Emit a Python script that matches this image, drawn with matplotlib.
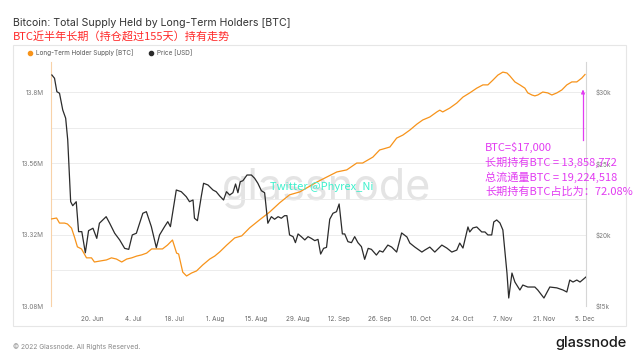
import matplotlib
matplotlib.use("Agg")
import matplotlib.pyplot as plt
from matplotlib.patches import Rectangle
from matplotlib.ticker import FixedLocator, FuncFormatter
import pandas as pd

plt.rcParams["font.family"] = ["Inter", "Noto Sans CJK SC", "DejaVu Sans"]

# --- data (days since 2022-06-06) ---
START = pd.Timestamp("2022-06-06")

price_day = [0.3, 1.2, 2.0, 2.9, 4.0, 5.0, 5.7, 6.7, 7.4, 8.6, 9.4, 10.5, 11.7, 12.8, 14.3,
             15.6, 16.5, 18.8, 20.0, 21.7, 23.4, 25.1, 26.5, 27.7, 29.1, 31.3, 32.5, 34.2,
             35.9, 37.0, 38.7, 39.8, 40.7, 42.7, 44.4, 46.1, 47.2, 48.4, 48.9, 49.9, 51.2,
             52.0, 53.5, 55.2, 56.3, 57.5, 58.8, 59.8, 60.9, 62.0, 62.9, 63.7, 64.5, 65.4,
             66.8, 68.3, 69.4, 70.5, 71.7, 72.8, 73.9, 75.1, 76.2, 77.4, 78.5, 79.6, 80.4,
             81.3, 82.5, 83.3, 84.2, 85.3, 86.5, 87.6, 88.7, 89.9, 91.0, 91.9, 92.9, 93.9,
             95.0, 96.1, 97.3, 98.2, 99.3, 100.1, 101.2, 102.4, 103.5, 104.6, 105.8, 106.9,
             108.1, 109.2, 110.9, 112.0, 113.1, 114.8, 116.1, 117.8, 119.5, 121.3, 122.3,
             124.0, 126.4, 127.4, 129.1, 130.8, 133.2, 134.9, 136.6, 138.3, 139.3, 140.4,
             142.1, 142.7, 143.8, 145.1, 146.8, 147.9, 148.9, 150.2, 150.9, 151.9, 153.0,
             154.0, 155.4, 156.0, 157.1, 158.1, 159.8, 160.8, 162.5, 164.9, 165.9, 168.0,
             170.0, 172.4, 174.5, 175.8, 176.8, 177.9, 179.2, 180.3, 182.3]
price_usd = [31190, 30960, 30020, 29910, 28740, 28160, 26640, 22310, 22030, 22310, 20210,
             20210, 18730, 20280, 20450, 19740, 20800, 21260, 20800, 20100, 19630, 19040,
             18970, 19980, 20100, 21500, 21610, 20560, 19090, 19980, 20560, 20910, 20560,
             23130, 23010, 22660, 22310, 22430, 21150, 20980, 22660, 23600, 23480, 23130,
             23010, 22710, 22430, 23010, 22780, 22940, 23550, 22940, 23710, 23780, 24180,
             24180, 23950, 23600, 23080, 22940, 20800, 21260, 21080, 21260, 21150, 21330,
             21330, 19980, 19860, 19440, 20050, 19860, 19630, 19860, 19740, 19580, 19670,
             18640, 19040, 19110, 21080, 21500, 21610, 22150, 20050, 20050, 19510, 19440,
             19860, 19440, 19160, 18270, 19040, 18970, 18570, 18870, 18780, 19270, 19130,
             18780, 20120, 19840, 19410, 19130, 18780, 18920, 19130, 18780, 19270, 19060,
             18780, 18920, 19410, 19060, 20540, 20190, 20470, 20540, 20190, 20190, 19980,
             19980, 20890, 21030, 20820, 20330, 17310, 15560, 17310, 16680, 16120, 16470,
             16330, 16330, 16120, 15560, 16330, 16270, 16120, 15980, 16820, 16680, 16820,
             16680, 17030]

lth_day = [0.2, 1.9, 2.9, 4.6, 5.6, 7.0, 8.0, 9.0, 10.4, 12.1, 13.8, 14.8, 16.5, 18.9, 20.6,
           22.3, 24.1, 25.8, 27.5, 29.2, 30.9, 32.6, 34.3, 36.0, 38.0, 39.7, 41.4, 42.8,
           43.5, 44.9, 46.2, 47.9, 49.6, 51.7, 54.1, 55.8, 57.5, 59.9, 62.6, 65.0, 67.7,
           71.1, 74.5, 77.9, 81.3, 84.8, 87.1, 90.6, 94.0, 97.4, 100.8, 104.2, 106.2, 109.7,
           112.0, 113.1, 115.5, 117.8, 119.9, 122.3, 124.7, 126.7, 129.1, 131.5, 132.5,
           133.5, 135.9, 138.3, 140.4, 142.7, 145.1, 147.2, 148.9, 150.6, 152.3, 154.0,
           155.4, 156.4, 158.1, 159.8, 161.5, 162.5, 163.9, 164.9, 165.9, 167.6, 169.3,
           170.7, 172.4, 174.1, 175.8, 177.5, 179.2, 180.9, 182.0]
lth_supply_m = [13.373, 13.376, 13.359, 13.359, 13.356, 13.342, 13.312, 13.279, 13.272,
                13.242, 13.242, 13.228, 13.231, 13.235, 13.242, 13.238, 13.228, 13.238,
                13.242, 13.248, 13.252, 13.258, 13.272, 13.272, 13.272, 13.285, 13.302,
                13.258, 13.255, 13.194, 13.181, 13.191, 13.198, 13.218, 13.238, 13.248,
                13.262, 13.285, 13.309, 13.316, 13.343, 13.370, 13.396, 13.427, 13.454,
                13.464, 13.477, 13.497, 13.514, 13.531, 13.538, 13.561, 13.561, 13.581,
                13.605, 13.608, 13.615, 13.645, 13.655, 13.672, 13.692, 13.706, 13.716,
                13.733, 13.739, 13.733, 13.746, 13.763, 13.783, 13.797, 13.813, 13.824,
                13.824, 13.840, 13.857, 13.867, 13.864, 13.854, 13.834, 13.824, 13.813,
                13.797, 13.790, 13.787, 13.790, 13.800, 13.797, 13.790, 13.797, 13.807,
                13.824, 13.834, 13.834, 13.847, 13.859]

left_ticks = [13.08, 13.32, 13.56, 13.80]
left_minor = [13.20, 13.44, 13.68]
right_ticks = [15000, 20000, 25000, 30000]
x_tick_dates = pd.date_range("2022-06-20", "2022-12-05", freq="14D")

note_lines = ["BTC=$17,000",
              "长期持有BTC = 13,858,772",
              "总流通量BTC = 19,224,518",
              "长期持有BTC占比为：72.08%"]

ORANGE = "#f7931a"
DARK = "#2b2b2b"
MAGENTA = "#e23cf2"

price_dates = START + pd.to_timedelta(price_day, unit="D")
lth_dates = START + pd.to_timedelta(lth_day, unit="D")

fig = plt.figure(figsize=(6.4, 3.6), dpi=100)
W, H = 640, 360
# card behind the chart
card = Rectangle((13 / W, 1 - 326 / H), (626 - 13) / W, (326 - 45) / H,
                 transform=fig.transFigure, facecolor="white",
                 edgecolor="#e6e6e6", lw=0.8, zorder=-10)
fig.add_artist(card)

ax = fig.add_axes([51 / W, 1 - 306 / H, (586 - 51) / W, (306 - 62) / H])
ax.patch.set_alpha(0)
ax2 = ax.twinx()
ax2.patch.set_alpha(0)

ax.set_ylim(13.08, 13.901)
ax2.set_ylim(15000, 32100)
ax.set_xlim(START, pd.Timestamp("2022-12-05 08:00"))

# watermark
ax.text(0.515, 0.435, "glassnode", transform=ax.transAxes, ha="center", va="baseline",
        fontsize=31, color="#e4e4e4", zorder=0)

ax.plot(lth_dates, lth_supply_m, color=ORANGE, lw=0.9, zorder=3)
ax2.plot(price_dates, price_usd, color=DARK, lw=0.9, zorder=3)

ax.yaxis.set_major_locator(FixedLocator(left_ticks))
ax.yaxis.set_minor_locator(FixedLocator(left_minor))
ax.yaxis.set_major_formatter(FuncFormatter(lambda v, p: f"{v:g}M"))
ax.grid(axis="y", which="both", color="#ececec", lw=0.7)
ax.set_axisbelow(True)
ax2.yaxis.set_major_locator(FixedLocator(right_ticks))
ax2.yaxis.set_major_formatter(FuncFormatter(lambda v, p: f"${v / 1000:.0f}k"))

ax.set_xticks(x_tick_dates)
ax.set_xticklabels([f"{d.day}. {d.strftime('%b')}" for d in x_tick_dates])

ax.tick_params(axis="y", length=0, pad=5, labelsize=4.6, labelcolor="#777777")
ax.tick_params(axis="y", which="minor", length=0)
ax2.tick_params(axis="y", length=0, pad=7, labelsize=4.6, labelcolor="#777777")
ax.tick_params(axis="x", length=0, pad=7, labelsize=4.6, labelcolor="#666666")

for a in (ax, ax2):
    a.spines["top"].set_visible(False)
    a.spines["bottom"].set_visible(False)
ax.spines["left"].set_color("#f8d2a8")
ax.spines["left"].set_linewidth(0.8)
ax.spines["right"].set_visible(False)
ax2.spines["left"].set_visible(False)
ax2.spines["right"].set_color("#d6d6d6")
ax2.spines["right"].set_linewidth(0.8)

# header
fig.text(13 / W, 1 - 23 / H, "Bitcoin: Total Supply Held by Long-Term Holders [BTC]",
         ha="left", va="center", fontsize=7.6, color="#333333")
fig.text(13 / W, 1 - 36 / H, "BTC近半年长期（持仓超过155天）持有走势",
         ha="left", va="center", fontsize=8, color="#ff2a2a", family="Noto Sans CJK SC")

# legend
fig.add_artist(plt.Line2D([30 / W], [1 - 53 / H], transform=fig.transFigure, marker="o",
                          ms=3, color=ORANGE, ls=""))
fig.text(36 / W, 1 - 53 / H, "Long-Term Holder Supply [BTC]", ha="left", va="center",
         fontsize=4.6, color="#555555")
fig.add_artist(plt.Line2D([151 / W], [1 - 53 / H], transform=fig.transFigure, marker="o",
                          ms=3, color=DARK, ls=""))
fig.text(157 / W, 1 - 53 / H, "Price [USD]", ha="left", va="center",
         fontsize=4.6, color="#555555")

# overlays
fig.text(270 / W, 1 - 187 / H, "Twitter @Phyrex_Ni", ha="left", va="center",
         fontsize=8, color="#3ef0cc", family="Noto Sans CJK SC")
for i, line in enumerate(note_lines):
    fig.text(485 / W, 1 - (147 + 15 * i) / H, line, ha="left", va="center",
             fontsize=8, color=MAGENTA, family=["Noto Sans CJK SC", "DejaVu Sans"])
fig.add_artist(plt.Line2D([583 / W, 583 / W], [1 - 140 / H, 1 - 93 / H],
                          transform=fig.transFigure, color=MAGENTA, lw=0.9))
ax.annotate("", xy=(583 / W, 1 - 87 / H), xytext=(583 / W, 1 - 95 / H),
            xycoords="figure fraction", textcoords="figure fraction",
            arrowprops=dict(arrowstyle="-|>", color=MAGENTA, lw=0.9, mutation_scale=5))

# footer
fig.text(13 / W, 1 - 347 / H, "© 2022 Glassnode. All Rights Reserved.", ha="left",
         va="center", fontsize=4.8, color="#888888")
fig.text(627 / W, 1 - 343 / H, "glassnode", ha="right", va="center", fontsize=10.5,
         color="#1a1a1a", weight="medium")

fig.savefig("out.png", dpi=100, facecolor="white")
